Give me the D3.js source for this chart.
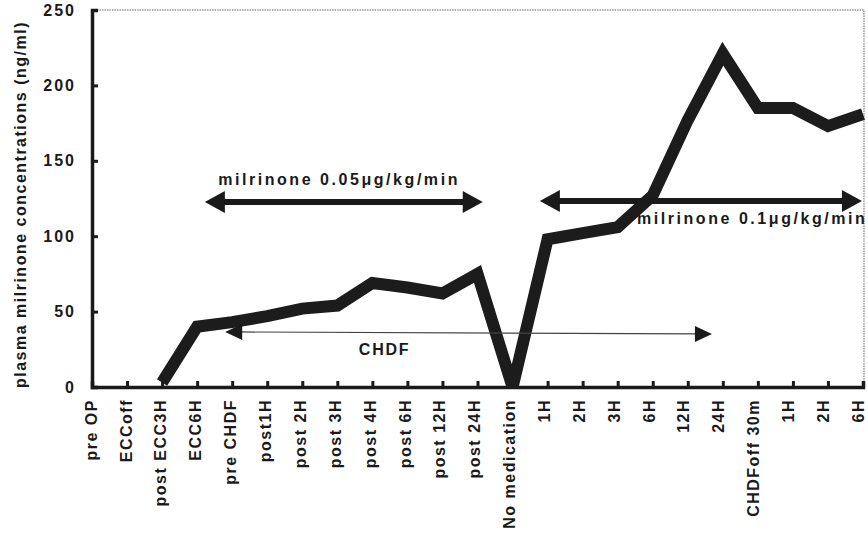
<!DOCTYPE html>
<meta charset="utf-8">
<script src="https://d3js.org/d3.v7.min.js"></script>
<style>
  body { margin: 0; background: #fff; }
  text { font-family: "Liberation Sans", Arial, sans-serif; font-weight: bold; fill: #1a1a1a; }
</style>
<div id="chart"></div>
<script>

// time points along the x axis
var labels = ["pre OP", "ECCoff", "post ECC3H", "ECC6H", "pre CHDF", "post1H", "post 2H",
  "post 3H", "post 4H", "post 6H", "post 12H", "post 24H", "No medication", "1H", "2H",
  "3H", "6H", "12H", "24H", "CHDFoff 30m", "1H", "2H", "6H"];

// plasma milrinone (ng/ml), null = not measured
var conc = [null, null, 3, 40, 43, 47, 52, 54, 69, 66, 62, 75, 0, 98, 102, 106, 127, 177, 221, 185, 185, 173, 181];

var yTicks = [0, 50, 100, 150, 200, 250];

// annotation arrows: start/end in category units, level in ng/ml
var arrows = [
  {from: 3.22, to: 11.15, v0: 122.7, v1: 122.7, heavy: true},
  {from: 12.78, to: 21.97, v0: 123.3, v1: 123.3, heavy: true},
  {from: 3.8, to: 17.69, v0: 36.5, v1: 35.2, heavy: false}
];
var notes = [
  {text: "milrinone 0.05\u03bcg/kg/min", at: 3.6, v: 134, anchor: "start", ls: 2.55},
  {text: "milrinone 0.1\u03bcg/kg/min", at: 15.55, v: 108, anchor: "start", ls: 2.55},
  {text: "CHDF", at: 8.35, v: 21, anchor: "middle", ls: 1.8}
];

var W = 868, H = 535;
var mLeft = 92, mRight = 863, mTop = 10, mBottom = 387;

var svg = d3.select("#chart").append("svg")
  .attr("width", W)
  .attr("height", H);

var x = d3.scaleLinear().domain([0, labels.length - 1]).range([mLeft, mRight]);
var xLab = d3.scaleLinear().domain([0, labels.length - 1]).range([mLeft - 1, mRight - 5]);
var y = d3.scaleLinear().domain([0, 250]).range([mBottom, mTop]);

// dotted frame on top and right
svg.append("path")
  .attr("d", "M" + mLeft + "," + y(250) + "H" + (mRight + 1) + "V" + mBottom)
  .attr("fill", "none")
  .attr("stroke", "#999")
  .attr("stroke-width", 1.5)
  .attr("stroke-dasharray", "1.5,1");

// y axis
var yAxis = svg.append("g")
  .attr("transform", "translate(" + mLeft + ",0)")
  .call(d3.axisLeft(y).tickValues(yTicks).tickSize(-6).tickPadding(16));
yAxis.select(".domain").attr("stroke", "#1a1a1a").attr("stroke-width", 3.5);
yAxis.selectAll(".tick line").attr("stroke", "#1a1a1a").attr("stroke-width", 3);
yAxis.selectAll(".tick text")
  .style("font-size", "16px")
  .style("letter-spacing", "2px")
  .attr("fill", "#1a1a1a");

// x axis
var xAxis = svg.append("g")
  .attr("transform", "translate(0," + mBottom + ")")
  .call(d3.axisBottom(x).tickValues(d3.range(labels.length)).tickSize(-6).tickFormat(""));
xAxis.select(".domain").attr("stroke", "#1a1a1a").attr("stroke-width", 3.5);
xAxis.selectAll(".tick line").attr("stroke", "#1a1a1a").attr("stroke-width", 3);

svg.append("g").selectAll("text")
  .data(labels)
  .join("text")
    .attr("transform", function(d, i) { return "translate(" + xLab(i) + "," + (mBottom + 12) + ") rotate(-90)"; })
    .attr("text-anchor", "end")
    .attr("dy", "0.36em")
    .style("font-size", "16px")
    .style("letter-spacing", "1.5px")
    .text(function(d) { return d; });

// y axis title
svg.append("text")
  .attr("transform", "translate(26," + ((mTop + mBottom) / 2 + 6) + ") rotate(-90)")
  .attr("text-anchor", "middle")
  .style("font-size", "16px")
  .style("letter-spacing", "1.5px")
  .text("plasma milrinone concentrations (ng/ml)");

// concentration line
var line = d3.line()
  .defined(function(d) { return d != null; })
  .x(function(d, i) { return x(i); })
  .y(function(d) { return y(d); });

svg.append("path")
  .datum(conc)
  .attr("d", line)
  .attr("fill", "none")
  .attr("stroke", "#1c1c1c")
  .attr("stroke-width", 12)
  .attr("stroke-linejoin", "miter")
  .attr("stroke-miterlimit", 2.2);

// arrows
function arrowHead(xt, yt, dir, len, half) {
  var xb = xt - dir * len;
  return "M" + xt + "," + yt + "L" + xb + "," + (yt - half) + "L" + xb + "," + (yt + half) + "Z";
}

arrows.forEach(function(a) {
  var x0 = x(a.from), x1 = x(a.to), y0 = y(a.v0), y1 = y(a.v1);
  var len = a.heavy ? 20 : 17, half = a.heavy ? 11 : 8;
  svg.append("line")
    .attr("x1", x0 + len - 2).attr("y1", y0)
    .attr("x2", x1 - len + 2).attr("y2", y1)
    .attr("stroke", a.heavy ? "#1a1a1a" : "#444")
    .attr("stroke-width", a.heavy ? 6 : 1.2);
  svg.append("path").attr("d", arrowHead(x0, y0, -1, len, half)).attr("fill", "#1a1a1a");
  svg.append("path").attr("d", arrowHead(x1, y1, 1, len, half)).attr("fill", "#1a1a1a");
});

svg.append("g").selectAll("text")
  .data(notes)
  .join("text")
    .attr("x", function(d) { return x(d.at); })
    .attr("y", function(d) { return y(d.v); })
    .attr("text-anchor", function(d) { return d.anchor; })
    .style("font-size", "16px")
    .style("letter-spacing", function(d) { return d.ls + "px"; })
    .text(function(d) { return d.text; });

</script>
